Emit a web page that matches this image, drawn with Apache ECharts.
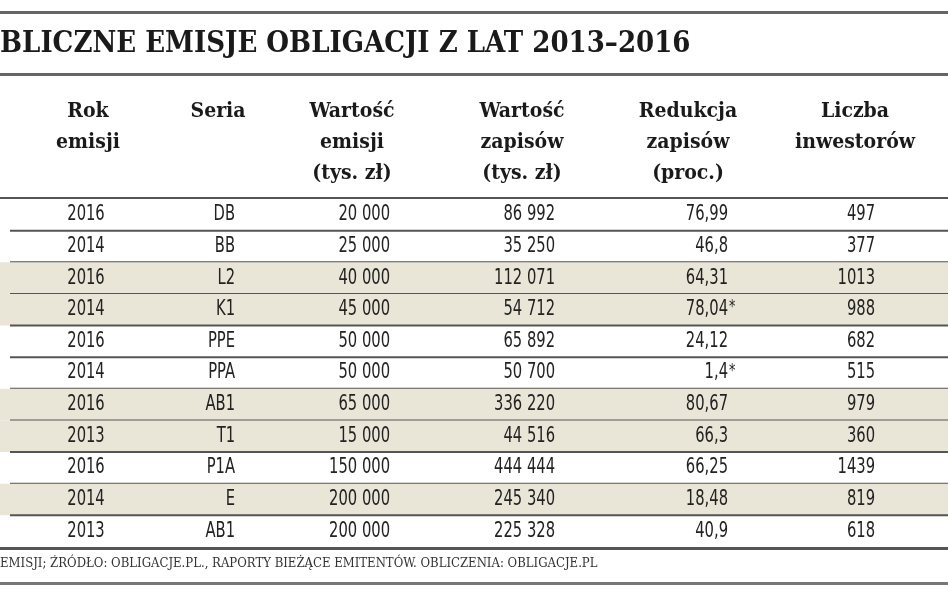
<!DOCTYPE html>
<html><head><meta charset="utf-8">
<script src="https://cdn.jsdelivr.net/npm/echarts@6/dist/echarts.min.js"></script>
<style>html,body{margin:0;padding:0;background:#fff}#c{width:948px;height:593px}</style>
</head><body><div id="c"></div>
<script>
const title = 'BLICZNE EMISJE OBLIGACJI Z LAT 2013–2016';
const footnote = 'EMISJI; ŹRÓDŁO: OBLIGACJE.PL., RAPORTY BIEŻĄCE EMITENTÓW. OBLICZENIA: OBLIGACJE.PL';
const headers = ['Rok\nemisji', 'Seria', 'Wartość\nemisji\n(tys. zł)', 'Wartość\nzapisów\n(tys. zł)', 'Redukcja\nzapisów\n(proc.)', 'Liczba\ninwestorów'];
const years = ['2016','2014','2016','2014','2016','2014','2016','2013','2016','2014','2013'];
const series = ['DB','BB','L2','K1','PPE','PPA','AB1','T1','P1A','E','AB1'];
const issueValue = ['20 000','25 000','40 000','45 000','50 000','50 000','65 000','15 000','150 000','200 000','200 000'];
const subscriptions = ['86 992','35 250','112 071','54 712','65 892','50 700','336 220','44 516','444 444','245 340','225 328'];
const reduction = ['76,99','46,8','64,31','78,04*','24,12','1,4*','80,67','66,3','66,25','18,48','40,9'];
const investors = ['497','377','1013','988','682','515','979','360','1439','819','618'];
const shaded = [0,0,1,1,0,0,1,1,0,1,0];

const columns = [years, series, issueValue, subscriptions, reduction, investors];
const colX = [86, 235, 390, 555, 728, 875];
const colAlign = ['center','right','right','right','right','right'];
const headX = [88, 218, 352, 522, 688, 855];

const rowIdx = years.map((_, i) => i);
const cells = [];
columns.forEach((col, c) => col.forEach((v, r) => cells.push([c, r, v])));

const chart = echarts.init(document.getElementById('c'));
const bodyFont = '"DejaVu Sans Condensed", "DejaVu Sans", sans-serif';
const serif = '"DejaVu Serif Condensed", "DejaVu Serif", serif';
chart.setOption({
  animation: false,
  grid: { left: 0, right: 0, top: 199, height: 348 },
  xAxis: { type: 'value', min: 0, max: 948, show: false },
  yAxis: { type: 'category', data: rowIdx.map(String), inverse: true, show: false },
  graphic: [
    { type: 'rect', shape: { x: 0, y: 11, width: 948, height: 3 }, style: { fill: '#666' } },
    { type: 'text', x: 0, y: 44, style: { text: title, font: 'bold 29px ' + serif, fill: '#1a1a1a', textVerticalAlign: 'middle' } },
    { type: 'rect', shape: { x: 0, y: 73, width: 948, height: 3 }, style: { fill: '#666' } },
    ...headers.map((h, i) => ({ type: 'text', x: headX[i], y: 96, style: { text: h, font: 'bold 21px ' + serif, fill: '#1a1a1a', textAlign: 'center', lineHeight: 31 } })),
    { type: 'rect', shape: { x: 0, y: 197, width: 948, height: 2 }, style: { fill: '#555' } },
    { type: 'rect', shape: { x: 0, y: 547, width: 948, height: 3 }, style: { fill: '#555' } },
    { type: 'text', x: 0, y: 564, style: { text: footnote, font: '13px ' + serif, fill: '#333', textVerticalAlign: 'middle' } },
    { type: 'rect', shape: { x: 0, y: 582, width: 948, height: 3 }, style: { fill: '#777' } }
  ],
  series: [
    {
      type: 'custom', z: 1,
      data: rowIdx.map(r => [r, shaded[r]]),
      renderItem: (params, api) => {
        const r = api.value(0);
        const top = api.coord([0, r])[1] - api.size([0, 1])[1] / 2;
        const h = api.size([0, 1])[1];
        const children = [];
        if (api.value(1)) children.push({ type: 'rect', shape: { x: 0, y: top, width: 948, height: h }, style: { fill: '#e9e6d8' } });
        if (r < rowIdx.length - 1) children.push({ type: 'rect', shape: { x: 10, y: top + h - 1, width: 938, height: 2 }, style: { fill: '#555' } });
        return { type: 'group', children };
      }
    },
    {
      type: 'custom', z: 2,
      data: cells,
      renderItem: (params, api) => {
        const c = api.value(0), r = api.value(1);
        const raw = cells[params.dataIndex][2];
        const star = raw.endsWith('*');
        const txt = star ? raw.slice(0, -1) : raw;
        const y = api.coord([0, r])[1];
        const children = [{ type: 'text', x: colX[c], y: y, scaleX: 0.78, style: { text: txt, font: '21px ' + bodyFont, fill: '#222', textAlign: colAlign[c], textVerticalAlign: 'middle' } }];
        if (star) children.push({ type: 'text', x: colX[c] + 1, y: y - 2, scaleX: 0.78, style: { text: '*', font: '18px ' + bodyFont, fill: '#222', textAlign: 'left', textVerticalAlign: 'middle' } });
        return { type: 'group', children };
      }
    }
  ]
});
</script></body></html>
